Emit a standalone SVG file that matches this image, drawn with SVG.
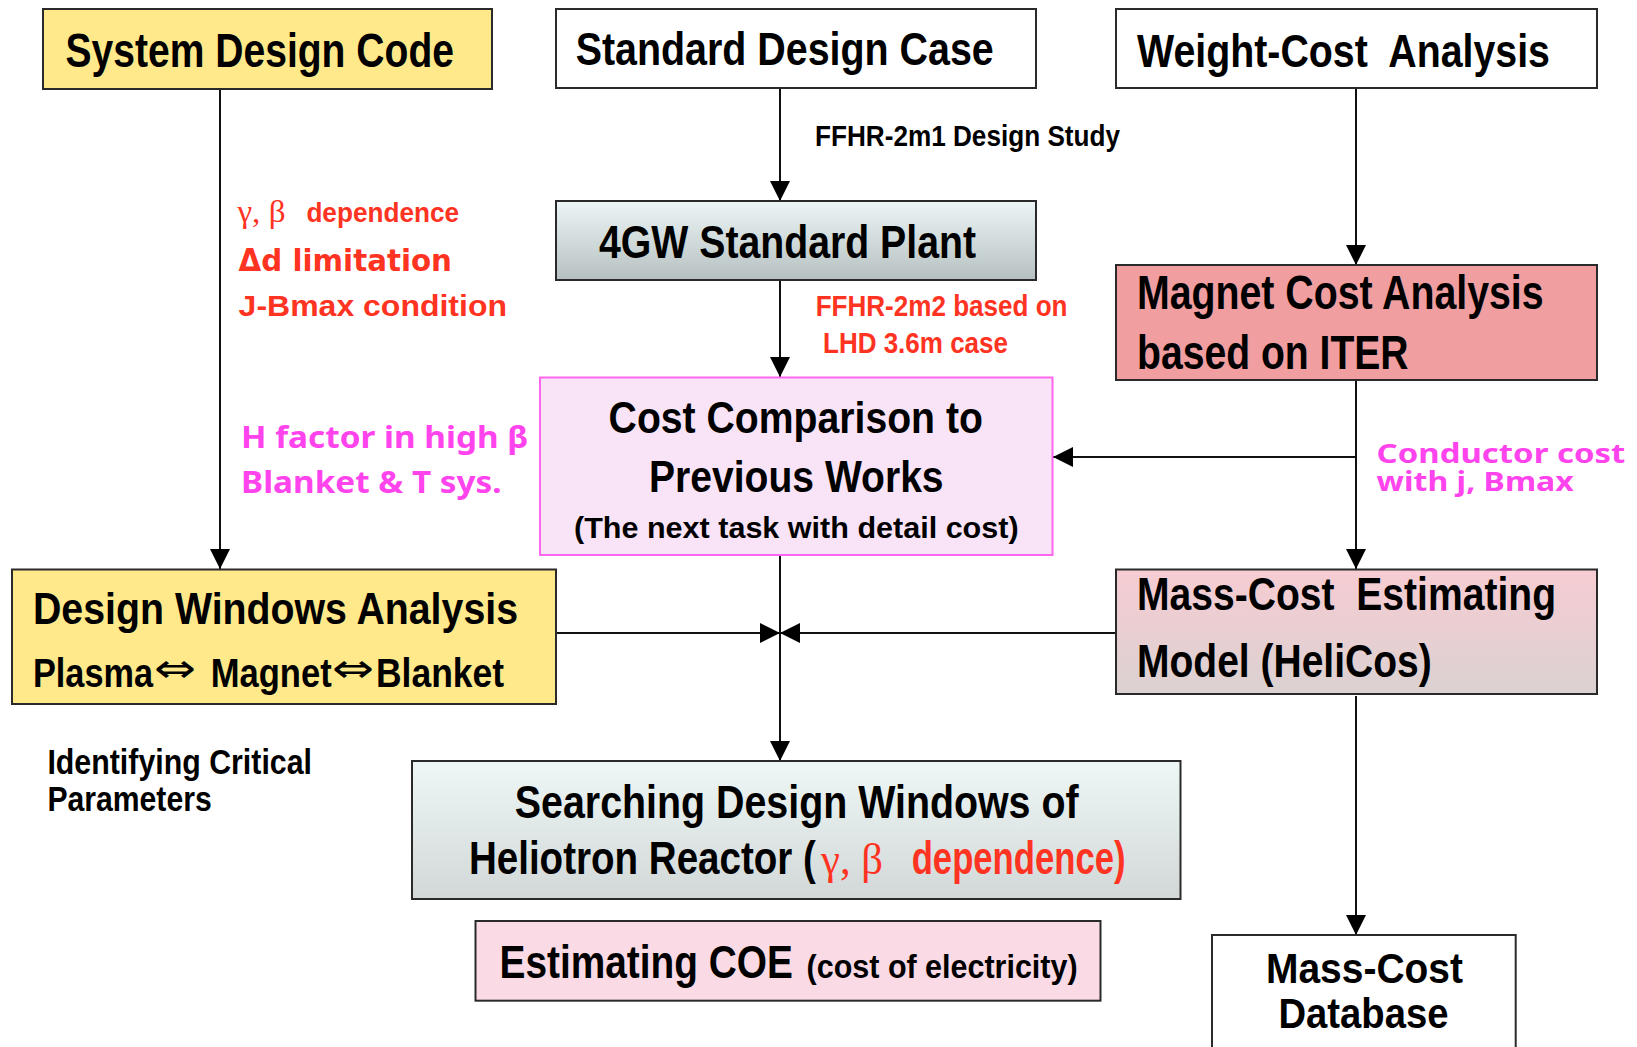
<svg xmlns="http://www.w3.org/2000/svg" width="1637" height="1047" viewBox="0 0 1637 1047">
<style>
text{white-space:pre}
.t{font-family:"Liberation Sans",Arial,sans-serif;font-weight:bold;fill:#000}
.s{font-family:"Liberation Serif","Times New Roman",serif;fill:#FF3322}
.red{fill:#FF3322}
.mag{font-family:"Noto Sans","DejaVu Sans",sans-serif;font-weight:bold;fill:#FF44EE}
.arw{font-family:"DejaVu Sans",sans-serif;fill:#000}
.box{stroke:#2a2a2a;stroke-width:2}
.ln{stroke:#111;stroke-width:2;fill:none}
</style>
<defs>
<marker id="ah" viewBox="0 0 20 20" refX="20" refY="10" markerWidth="20" markerHeight="20" markerUnits="userSpaceOnUse" orient="auto">
<path d="M0,0 L20,10 L0,20 Z" fill="#000"/>
</marker>
<linearGradient id="g4" x1="0" y1="0" x2="0" y2="1"><stop offset="0" stop-color="#EDF6F6"/><stop offset="1" stop-color="#B7C0C0"/></linearGradient>
<linearGradient id="gm" x1="0" y1="0" x2="0" y2="1"><stop offset="0" stop-color="#F6CCD2"/><stop offset="1" stop-color="#DBD1D1"/></linearGradient>
<linearGradient id="gs" x1="0" y1="0" x2="0" y2="1"><stop offset="0" stop-color="#EEF6F6"/><stop offset="1" stop-color="#D2D8D8"/></linearGradient>
</defs>
<rect width="1637" height="1047" fill="#fff"/>

<g id="connectors">
<line class="ln" x1="220" y1="89" x2="220" y2="569" marker-end="url(#ah)"/>
<line class="ln" x1="780" y1="88" x2="780" y2="201" marker-end="url(#ah)"/>
<line class="ln" x1="780" y1="280" x2="780" y2="377" marker-end="url(#ah)"/>
<line class="ln" x1="1356" y1="88" x2="1356" y2="265" marker-end="url(#ah)"/>
<line class="ln" x1="1356" y1="380" x2="1356" y2="569" marker-end="url(#ah)"/>
<line class="ln" x1="1356" y1="457" x2="1053" y2="457" marker-end="url(#ah)"/>
<line class="ln" x1="780" y1="555" x2="780" y2="761" marker-end="url(#ah)"/>
<line class="ln" x1="556" y1="633" x2="780" y2="633" marker-end="url(#ah)"/>
<line class="ln" x1="1116" y1="633" x2="780" y2="633" marker-end="url(#ah)"/>
<line class="ln" x1="1356" y1="696" x2="1356" y2="935" marker-end="url(#ah)"/>
</g>

<g id="system-design-code">
<rect class="box" x="43" y="9" width="449" height="80" fill="#FFE98A"/>
<text class="t" x="65.4" y="66.7" font-size="48" textLength="388.6" lengthAdjust="spacingAndGlyphs">System Design Code</text>
</g>

<g id="standard-design-case">
<rect class="box" x="556" y="9" width="480" height="79" fill="#fff"/>
<text class="t" x="575.7" y="65" font-size="46" textLength="418" lengthAdjust="spacingAndGlyphs">Standard Design Case</text>
</g>

<g id="weight-cost-analysis">
<rect class="box" x="1116" y="9" width="481" height="79" fill="#fff"/>
<text class="t" x="1137" y="66.7" font-size="46.5" textLength="413" lengthAdjust="spacingAndGlyphs">Weight-Cost  Analysis</text>
</g>

<g id="label-ffhr-2m1">
<text class="t" x="815" y="146" font-size="29" textLength="305" lengthAdjust="spacingAndGlyphs">FFHR-2m1 Design Study</text>
</g>

<g id="standard-plant">
<rect class="box" x="556" y="201" width="480" height="79" fill="url(#g4)"/>
<text class="t" x="599" y="258.3" font-size="45.6" textLength="377" lengthAdjust="spacingAndGlyphs">4GW Standard Plant</text>
</g>

<g id="magnet-cost-analysis">
<rect class="box" x="1116" y="265" width="481" height="115" fill="#F09EA0"/>
<text class="t" x="1137" y="309.3" font-size="48" textLength="406.6" lengthAdjust="spacingAndGlyphs">Magnet Cost Analysis</text>
<text class="t" x="1137" y="369.3" font-size="48" textLength="271.6" lengthAdjust="spacingAndGlyphs">based on ITER</text>
</g>

<g id="labels-left">
<text x="237.5" y="221.7" font-size="32" class="s" textLength="48" lengthAdjust="spacingAndGlyphs">γ, β</text>
<text class="t red" x="306.4" y="221.7" font-size="27" textLength="152.6" lengthAdjust="spacingAndGlyphs">dependence</text>
<text x="238.6" y="270.7" font-size="31" font-family="'DejaVu Sans',sans-serif" font-weight="bold" fill="#FF3322" textLength="213.4" lengthAdjust="spacingAndGlyphs">Δd limitation</text>
<text class="t red" x="238.6" y="315.7" font-size="29.5" textLength="268.4" lengthAdjust="spacingAndGlyphs">J-Bmax condition</text>
<text class="mag" x="241" y="448.3" font-size="31" textLength="287.3" lengthAdjust="spacingAndGlyphs">H factor in high β</text>
<text class="mag" x="241" y="493.3" font-size="31" textLength="260.7" lengthAdjust="spacingAndGlyphs">Blanket &amp; T sys.</text>
</g>

<g id="label-ffhr-2m2">
<text class="t red" x="815.7" y="316" font-size="29.5" textLength="251.8" lengthAdjust="spacingAndGlyphs">FFHR-2m2 based on</text>
<text class="t red" x="823" y="353.3" font-size="29.5" textLength="185" lengthAdjust="spacingAndGlyphs">LHD 3.6m case</text>
</g>

<g id="cost-comparison">
<rect x="540" y="377.5" width="512.5" height="177.5" fill="#F9E4F7" stroke="#FF66EE" stroke-width="2"/>
<text class="t" x="608.6" y="433.3" font-size="44.3" textLength="374.3" lengthAdjust="spacingAndGlyphs">Cost Comparison to</text>
<text class="t" x="649" y="491.7" font-size="44.3" textLength="294.6" lengthAdjust="spacingAndGlyphs">Previous Works</text>
<text class="t" x="574" y="538.3" font-size="30.3" textLength="444.6" lengthAdjust="spacingAndGlyphs">(The next task with detail cost)</text>
</g>

<g id="label-conductor">
<text class="mag" x="1376.6" y="463" font-size="27" textLength="248.7" lengthAdjust="spacingAndGlyphs">Conductor cost</text>
<text class="mag" x="1376.6" y="490.7" font-size="27" textLength="197.2" lengthAdjust="spacingAndGlyphs">with j, Bmax</text>
</g>

<g id="design-windows-analysis">
<rect class="box" x="12" y="569.5" width="544" height="134.5" fill="#FFE98A"/>
<text class="t" x="33" y="624" font-size="45" textLength="485" lengthAdjust="spacingAndGlyphs">Design Windows Analysis</text>
<text class="t" x="33" y="686.7" font-size="41" textLength="120" lengthAdjust="spacingAndGlyphs">Plasma</text>
<text class="arw" x="154" y="682" font-size="40" textLength="42" lengthAdjust="spacingAndGlyphs">⇔</text>
<text class="t" x="210.7" y="686.7" font-size="41" textLength="121" lengthAdjust="spacingAndGlyphs">Magnet</text>
<text class="arw" x="332" y="682" font-size="40" textLength="42" lengthAdjust="spacingAndGlyphs">⇔</text>
<text class="t" x="376" y="686.7" font-size="41" textLength="128" lengthAdjust="spacingAndGlyphs">Blanket</text>
</g>

<g id="mass-cost-model">
<rect class="box" x="1116" y="569.5" width="481" height="124.5" fill="url(#gm)"/>
<text class="t" x="1137" y="610" font-size="46.5" textLength="419" lengthAdjust="spacingAndGlyphs">Mass-Cost  Estimating</text>
<text class="t" x="1137" y="676.7" font-size="46.5" textLength="294.7" lengthAdjust="spacingAndGlyphs">Model (HeliCos)</text>
</g>

<g id="label-identifying">
<text class="t" x="47.4" y="774" font-size="35" textLength="264.6" lengthAdjust="spacingAndGlyphs">Identifying Critical</text>
<text class="t" x="47.4" y="810.7" font-size="35" textLength="164.3" lengthAdjust="spacingAndGlyphs">Parameters</text>
</g>

<g id="searching-design-windows">
<rect class="box" x="412" y="761" width="768.5" height="138" fill="url(#gs)"/>
<text class="t" x="514.8" y="818.3" font-size="46.5" textLength="563.8" lengthAdjust="spacingAndGlyphs">Searching Design Windows of</text>
<text class="t" x="468.9" y="874.3" font-size="46.5" textLength="347" lengthAdjust="spacingAndGlyphs">Heliotron Reactor (</text>
<text class="s" x="821" y="874.3" font-size="44" textLength="62" lengthAdjust="spacingAndGlyphs">γ, β</text>
<text class="t red" x="911.7" y="874.3" font-size="46.5" textLength="213.8" lengthAdjust="spacingAndGlyphs">dependence)</text>
</g>

<g id="estimating-coe">
<rect class="box" x="475.5" y="921" width="625" height="79.7" fill="#FADAE4"/>
<text class="t" x="499.5" y="978.3" font-size="45.6" textLength="293.4" lengthAdjust="spacingAndGlyphs">Estimating COE</text>
<text class="t" x="806.6" y="978.3" font-size="34" textLength="271" lengthAdjust="spacingAndGlyphs">(cost of electricity)</text>
</g>

<g id="mass-cost-database">
<rect class="box" x="1212" y="935" width="303.7" height="130" fill="#fff"/>
<text class="t" x="1266" y="982.7" font-size="43.3" textLength="197" lengthAdjust="spacingAndGlyphs">Mass-Cost</text>
<text class="t" x="1278.5" y="1027.7" font-size="43.3" textLength="170" lengthAdjust="spacingAndGlyphs">Database</text>
</g>
</svg>
